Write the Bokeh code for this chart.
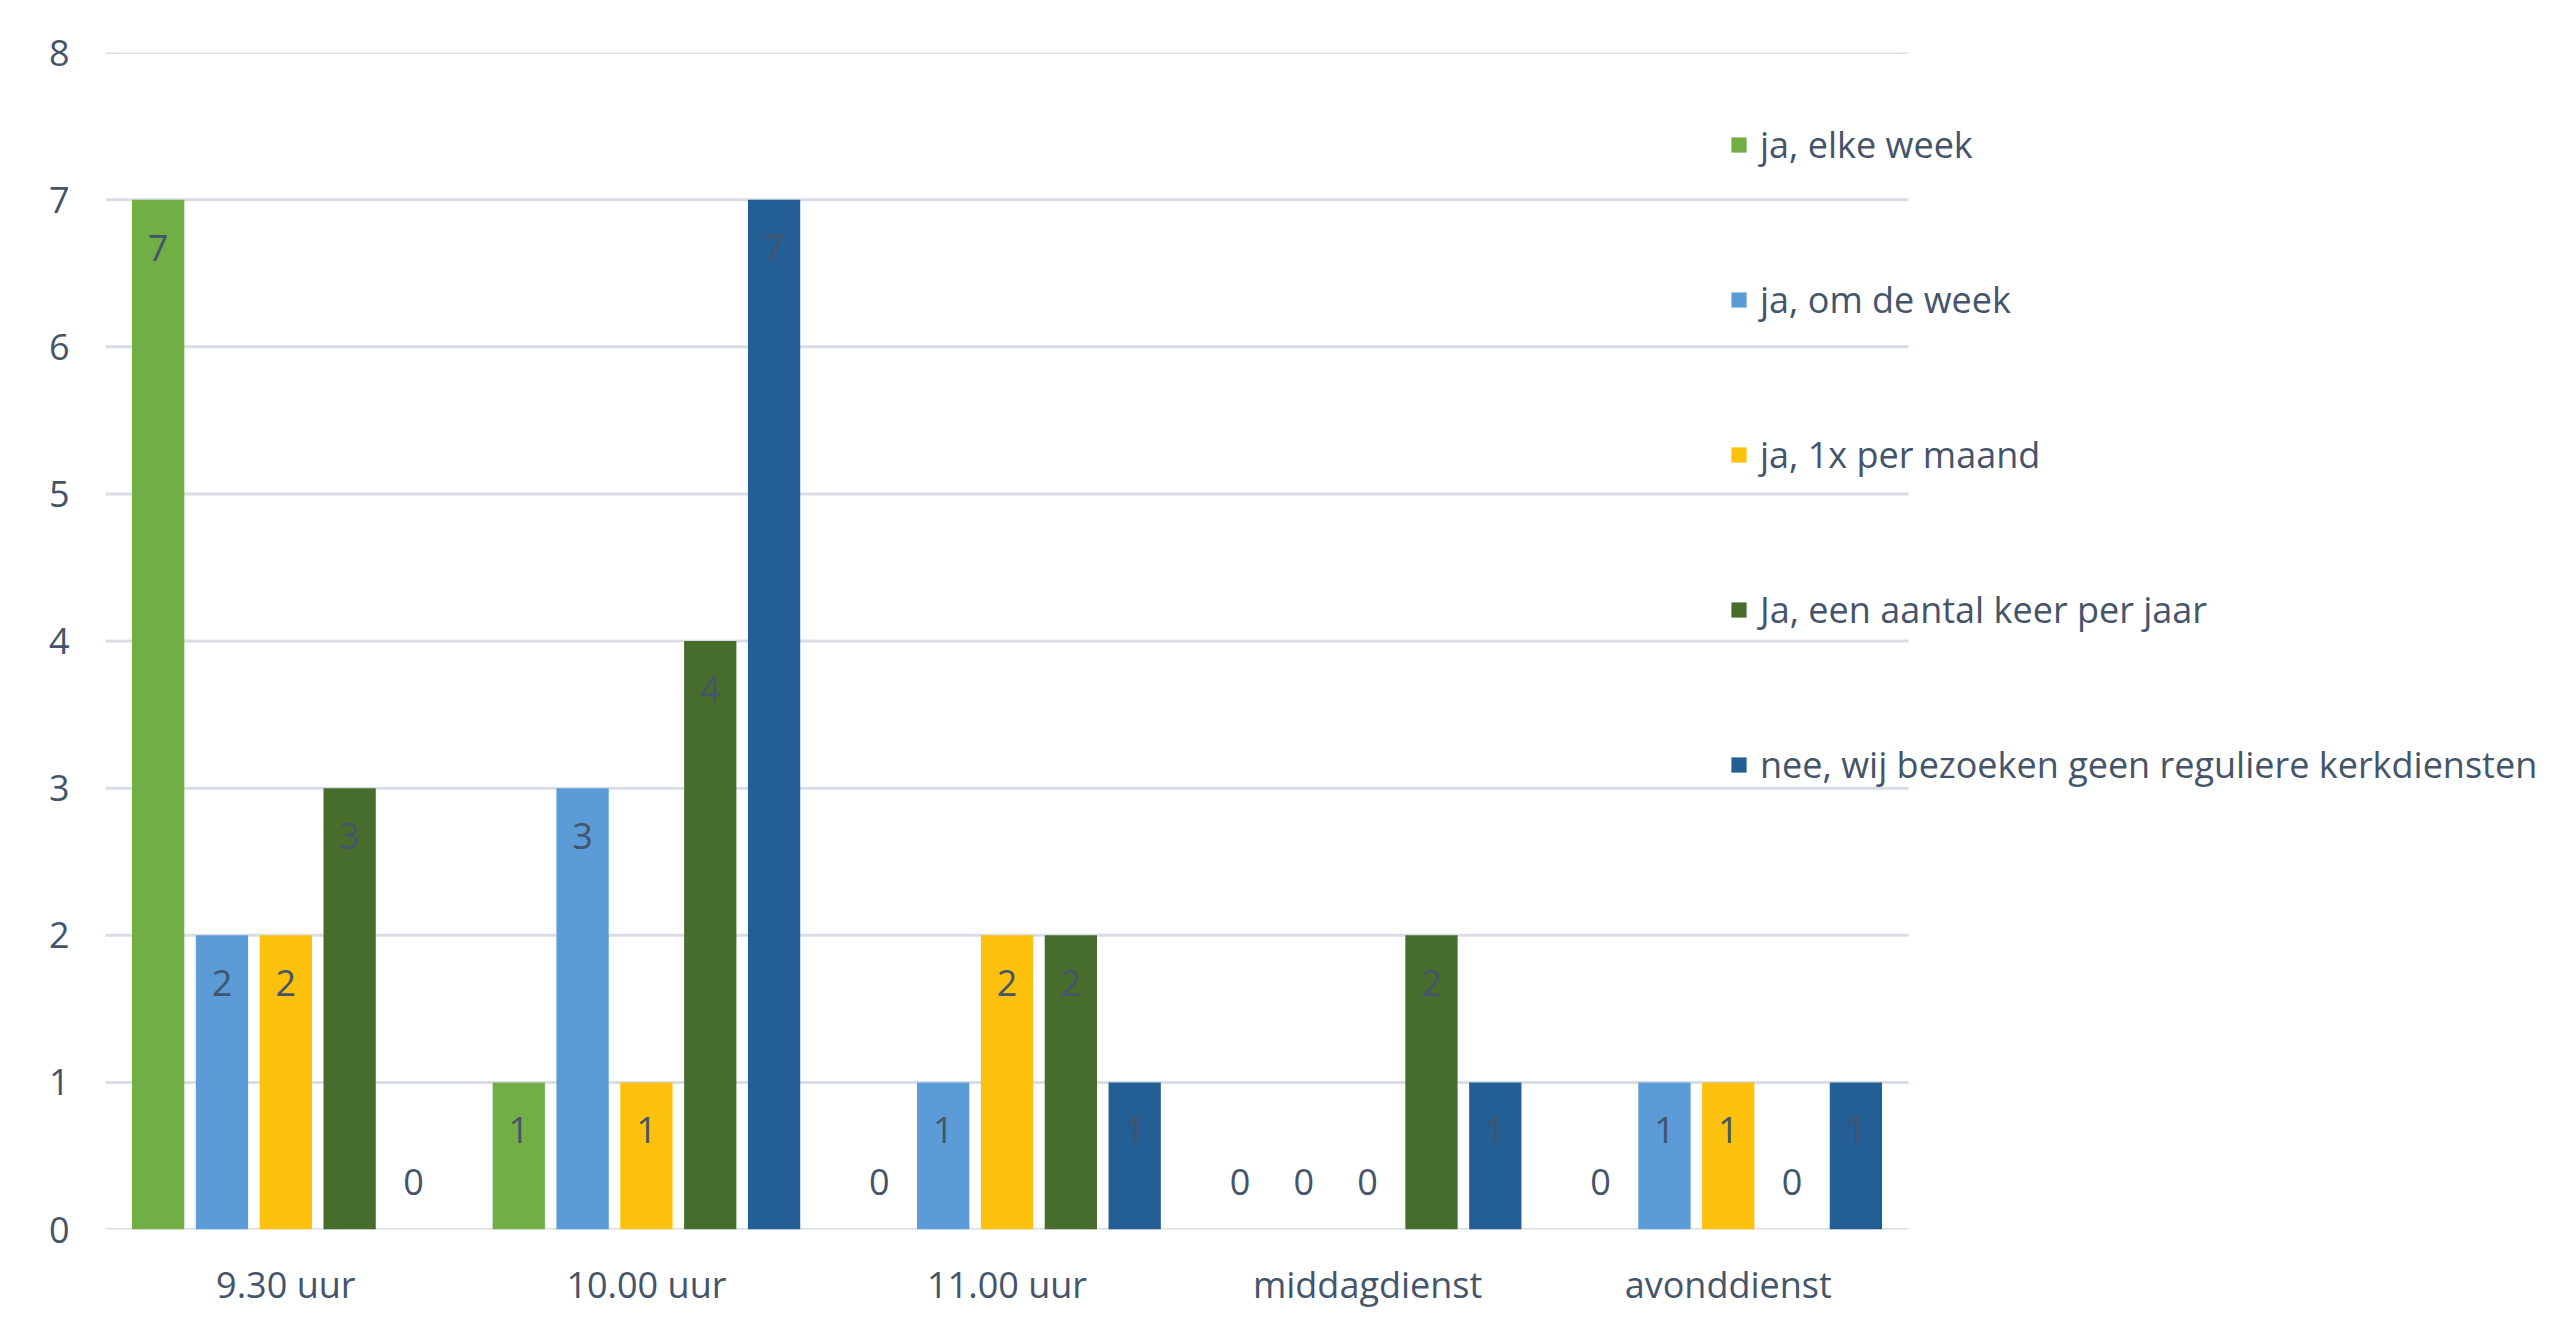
from bokeh.plotting import figure
from bokeh.models import ColumnDataSource, Range1d, LabelSet, FixedTicker
from bokeh.core.properties import value
from bokeh.embed import file_html
from bokeh.resources import INLINE

categories = ["9.30 uur", "10.00 uur", "11.00 uur", "middagdienst", "avonddienst"]
series_names = ["ja, elke week", "ja, om de week", "ja, 1x per maand",
                "Ja, een aantal keer per jaar", "nee, wij bezoeken geen reguliere kerkdiensten"]
elke_week = [7, 1, 0, 0, 0]
om_de_week = [2, 3, 1, 0, 1]
per_maand = [2, 1, 2, 0, 1]
per_jaar = [3, 4, 2, 2, 0]
nee = [0, 7, 1, 1, 1]
y_ticks = [0, 1, 2, 3, 4, 5, 6, 7, 8]

series_values = [elke_week, om_de_week, per_maand, per_jaar, nee]
colors = ["#72ae46", "#5a9bd8", "#fcc10c", "#476d2d", "#235e95"]
offsets = [-0.354, -0.177, 0.0, 0.177, 0.354]

FONT = "Open Sans"
TXT = "#44546a"
FS = "36px"

n_cat = len(categories)
centers = [i + 0.5 for i in range(n_cat)]
X_END = 6.794  # extra room on the right for the legend

p = figure(width=2555, height=1315, x_range=Range1d(0, X_END),
           y_range=Range1d(0, 8), output_backend="svg", toolbar_location=None,
           min_border_left=105, min_border_right=0, min_border_top=52, min_border_bottom=86)
p.background_fill_color = "white"
p.border_fill_color = "white"
p.outline_line_color = None

# horizontal gridlines only over the category area
p.segment(x0=[0] * len(y_ticks), x1=[n_cat] * len(y_ticks), y0=y_ticks, y1=y_ticks,
          line_color="#d9dde6", line_width=3)

for name, vals, col, off in zip(series_names, series_values, colors, offsets):
    xs = [c + off for c in centers]
    src = ColumnDataSource(dict(x=xs, val=vals))
    p.vbar(x="x", top="val", width=0.145, source=src,
           fill_color=col, line_color=None, legend_label=name)
    nz = [(x, v) for x, v in zip(xs, vals) if v != 0]
    z = [(x, v) for x, v in zip(xs, vals) if v == 0]
    for subset, yoff in ((nz, -48), (z, 48)):
        if not subset:
            continue
        s = ColumnDataSource(dict(x=[a for a, _ in subset], val=[b for _, b in subset],
                                  txt=[str(b) for _, b in subset]))
        p.add_layout(LabelSet(x="x", y="val", text="txt", source=s,
                              y_offset=yoff, text_align="center", text_baseline="middle",
                              text_font=value(FONT), text_font_size=value(FS),
                              text_color=value(TXT)))

p.xgrid.grid_line_color = None
p.ygrid.grid_line_color = None
p.yaxis.ticker = FixedTicker(ticks=y_ticks)
p.xaxis.ticker = FixedTicker(ticks=centers)
p.xaxis.major_label_overrides = {c: name for c, name in zip(centers, categories)}

for ax in (p.xaxis[0], p.yaxis[0]):
    ax.axis_line_color = None
    ax.major_tick_line_color = None
    ax.minor_tick_line_color = None
    ax.major_label_text_font = FONT
    ax.major_label_text_font_size = FS
    ax.major_label_text_color = TXT
p.yaxis.major_label_standoff = 30
p.xaxis.major_label_standoff = 24

lg = p.legend[0]
lg.location = (1624, 440)
lg.margin = 0
lg.padding = 0
lg.spacing = 105
lg.glyph_width = 19
lg.glyph_height = 19
lg.label_height = 50
lg.label_standoff = 12
lg.label_text_font = FONT
lg.label_text_font_size = FS
lg.label_text_color = TXT
lg.background_fill_alpha = 0
lg.border_line_alpha = 0

open("out.html", "w").write(file_html(p, INLINE))
